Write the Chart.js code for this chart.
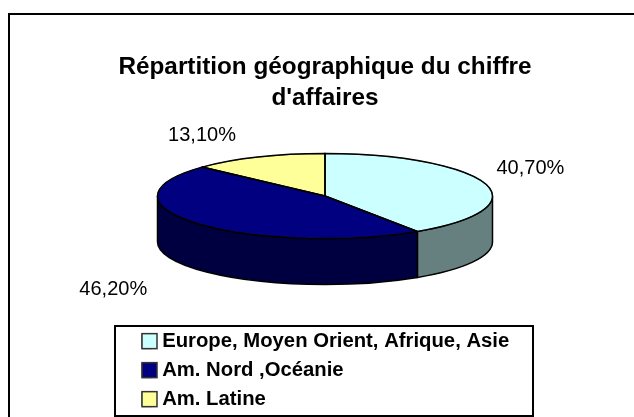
<!DOCTYPE html>
<html>
<head>
<meta charset="utf-8">
<script src="https://cdn.jsdelivr.net/npm/chart.js@4"></script>
<style>
  body { margin: 0; background: #fff; }
  canvas { display: block; }
</style>
</head>
<body>
<canvas id="grafico" width="634" height="417"></canvas>
<script>
// Données du graphique
const categories = ['Europe, Moyen Orient, Afrique, Asie', 'Am. Nord ,Océanie', 'Am. Latine'];
const valeurs = [40.7, 46.2, 13.1];
const titre = ['Répartition géographique du chiffre', "d'affaires"];
const couleurs = ['#CCFFFF', '#000080', '#FFFF99'];
const couleursCote = ['#668080', '#000040', '#808060'];

// Réglages de la perspective
const CENTRE_X = 325, CENTRE_Y = 196, RAYON = 167.5, ECRASEMENT = 42.5 / 167.5, EPAISSEUR = 46;
// Décalage de chaque étiquette depuis le bord de sa tranche
const decalages = [[45, -15], [-84, 66], [-56, -22]];
const TAILLE_LEGENDE = 20.3, ESPACE_LEGENDE = 8.7, CARRE = 15;

function tracerEllipse(ctx, debut, fin, sens, dy) {
  ctx.ellipse(CENTRE_X, CENTRE_Y + dy, RAYON, RAYON * ECRASEMENT, 0, debut, fin, sens);
}

// Dessine le camembert à plat écrasé, avec son côté et ses étiquettes
const perspective = {
  id: 'perspective',
  beforeDraw(chart) {
    const ctx = chart.ctx;
    // Le cadre du graphique dépasse à droite et en bas de la capture
    ctx.save();
    ctx.strokeStyle = '#000';
    ctx.lineWidth = 2;
    ctx.strokeRect(9, 14, 700, 500);
    ctx.restore();

    // Position de la légende avec son cadre
    const l = chart.legend;
    l.left = 133.3;
    l.top = 322.3;
    l.right = 533;
    l.bottom = 480;
    ctx.save();
    ctx.strokeStyle = '#000';
    ctx.lineWidth = 2;
    ctx.strokeRect(115, 326, 418, 90);
    ctx.restore();
  },
  beforeDatasetsDraw(chart) {
    const ctx = chart.ctx;
    const arcs = chart.getDatasetMeta(0).data;
    ctx.save();
    ctx.lineWidth = 1.5;
    ctx.strokeStyle = '#000';
    arcs.forEach((arc, i) => {
      // seule la partie avant (angles entre 0 et PI) est visible
      const deb = Math.max(arc.startAngle, 0), fin = Math.min(arc.endAngle, Math.PI);
      if (fin <= deb) return;
      ctx.beginPath();
      tracerEllipse(ctx, deb, fin, false, 0);
      tracerEllipse(ctx, fin, deb, true, EPAISSEUR);
      ctx.closePath();
      ctx.fillStyle = couleursCote[i];
      ctx.fill();
      ctx.stroke();
    });
    ctx.restore();

    ctx.save();
    const c = arcs[0];
    ctx.translate(CENTRE_X, CENTRE_Y);
    ctx.scale(1, ECRASEMENT);
    ctx.translate(-c.x, -c.y);
  },
  afterDatasetsDraw(chart) {
    const ctx = chart.ctx;
    ctx.restore();
    const arcs = chart.getDatasetMeta(0).data;

    ctx.save();
    ctx.lineWidth = 1.5;
    ctx.strokeStyle = '#000';
    arcs.forEach((arc) => {
      ctx.beginPath();
      ctx.moveTo(CENTRE_X, CENTRE_Y);
      tracerEllipse(ctx, arc.startAngle, arc.endAngle, false, 0);
      ctx.closePath();
      ctx.stroke();
    });

    ctx.fillStyle = '#000';
    ctx.font = '20px "Liberation Sans"';
    ctx.textAlign = 'center';
    ctx.textBaseline = 'middle';
    arcs.forEach((arc, i) => {
      const milieu = (arc.startAngle + arc.endAngle) / 2;
      const x = CENTRE_X + Math.cos(milieu) * RAYON;
      const y = CENTRE_Y + Math.sin(milieu) * RAYON * ECRASEMENT;
      const texte = valeurs[i].toFixed(2).replace('.', ',') + '%';
      ctx.fillText(texte, x + decalages[i][0], y + decalages[i][1]);
    });
    ctx.restore();
  },
  afterDraw(chart) {
    // Chart.js colle le texte au carré : carrés de légende élargis ici
    const ctx = chart.ctx;
    const l = chart.legend;
    ctx.save();
    ctx.strokeStyle = '#333';
    ctx.lineWidth = 1.5;
    couleurs.forEach((couleur, i) => {
      const x = l.left + ESPACE_LEGENDE;
      const y = l.top + ESPACE_LEGENDE + i * (TAILLE_LEGENDE + ESPACE_LEGENDE) + (TAILLE_LEGENDE - CARRE) / 2;
      ctx.fillStyle = couleur;
      ctx.fillRect(x, y, CARRE, CARRE);
      ctx.strokeRect(x, y, CARRE, CARRE);
    });
    ctx.restore();
  }
};

new Chart(document.getElementById('grafico'), {
  type: 'pie',
  data: {
    labels: categories,
    datasets: [{
      data: valeurs,
      backgroundColor: couleurs,
      borderColor: '#333',
      borderWidth: 1,
      radius: RAYON
    }]
  },
  options: {
    responsive: false,
    animation: false,
    layout: { padding: { left: 16 } },
    plugins: {
      title: {
        display: true,
        text: titre,
        color: '#000',
        font: { family: '"Liberation Sans"', size: 24.3, weight: 'bold', lineHeight: 1.28 },
        padding: { top: 52, bottom: 0 }
      },
      legend: {
        position: 'left',
        align: 'start',
        labels: {
          color: '#000',
          font: { family: '"Liberation Sans"', size: TAILLE_LEGENDE, weight: 'bold' },
          boxWidth: 10,
          boxHeight: CARRE,
          padding: ESPACE_LEGENDE
        }
      },
      tooltip: { enabled: false }
    }
  },
  plugins: [perspective]
});
</script>
</body>
</html>
